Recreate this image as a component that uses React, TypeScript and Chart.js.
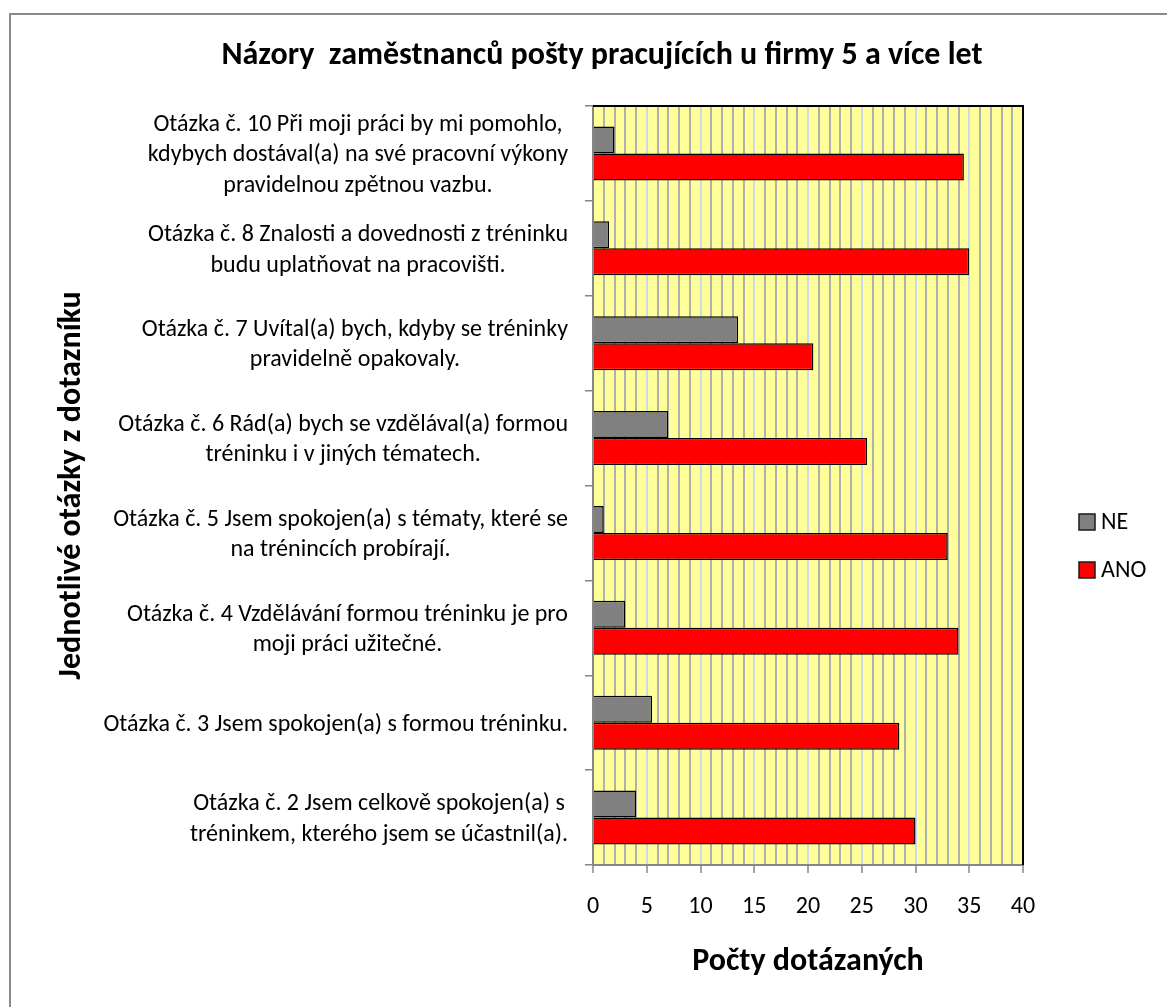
import { useEffect, useRef } from "react";
import { Chart, registerables } from "chart.js";

Chart.register(...registerables);

// Questionnaire items, top to bottom
const categories: string[][] = [
  ["Otázka č. 10 Při moji práci by mi pomohlo,", "kdybych dostával(a) na své pracovní výkony", "pravidelnou zpětnou vazbu."],
  ["Otázka č. 8 Znalosti a dovednosti z tréninku", "budu uplatňovat na pracovišti."],
  ["Otázka č. 7 Uvítal(a) bych, kdyby se tréninky", "pravidelně opakovaly."],
  ["Otázka č. 6 Rád(a) bych se vzdělával(a) formou", "tréninku i v jiných tématech."],
  ["Otázka č. 5 Jsem spokojen(a) s tématy, které se", "na trénincích probírají."],
  ["Otázka č. 4 Vzdělávání formou tréninku je pro", "moji práci užitečné."],
  ["Otázka č. 3 Jsem spokojen(a) s formou tréninku."],
  ["Otázka č. 2 Jsem celkově spokojen(a) s", "tréninkem, kterého jsem se účastnil(a)."],
];

const seriesNames = ["NE", "ANO"];
const neValues = [2, 1.5, 13.5, 7, 1, 3, 5.5, 4];
const anoValues = [34.5, 35, 20.5, 25.5, 33, 34, 28.5, 30];

const xMin = 0;
const xMax = 40;
const xMajorStep = 5;

const chartTitle = "Názory  zaměstnanců pošty pracujících u firmy 5 a více let";
const xTitle = "Počty dotázaných";
const yTitle = "Jednotlivé otázky z dotazníku";

const FONT = 'Carlito, Calibri, Lato, "Liberation Sans", sans-serif';
const LABEL_SIZE = 24;
const TITLE_SIZE = 32;
const AXIS_GREY = "#868686";

const decorPlugin = {
  id: "decor",
  beforeDraw(chart: any) {
    const { ctx, chartArea, width, height } = chart;
    ctx.save();
    ctx.fillStyle = "#ffffff";
    ctx.fillRect(0, 0, width, height);
    // plot background
    ctx.fillStyle = "#FFFF99";
    ctx.fillRect(chartArea.left, chartArea.top, chartArea.right - chartArea.left, chartArea.bottom - chartArea.top);
    // outer frame (top and left edges)
    ctx.strokeStyle = "#8a8a8a";
    ctx.lineWidth = 2;
    ctx.beginPath();
    ctx.moveTo(10, height);
    ctx.lineTo(10, 14);
    ctx.lineTo(width, 14);
    ctx.stroke();
    ctx.restore();
  },
  afterDatasetsDraw(chart: any) {
    const { ctx, chartArea } = chart;
    ctx.save();
    ctx.strokeStyle = "#000000";
    ctx.lineWidth = 2;
    ctx.beginPath();
    ctx.moveTo(chartArea.left, chartArea.top);
    ctx.lineTo(chartArea.right, chartArea.top);
    ctx.lineTo(chartArea.right, chartArea.bottom);
    ctx.stroke();
    ctx.restore();
  },
  afterDraw(chart: any) {
    const { ctx, chartArea } = chart;
    const yScale = chart.scales.y;
    ctx.save();
    ctx.fillStyle = "#000000";

    // chart title
    ctx.font = `bold ${TITLE_SIZE}px ${FONT}`;
    ctx.textAlign = "center";
    ctx.textBaseline = "middle";
    ctx.fillText(chartTitle, 602, 56);

    // category labels: each block right-aligned to the axis, lines centred inside it
    ctx.font = `${LABEL_SIZE}px ${FONT}`;
    const lineH = 30.5;
    const labels = chart.data.labels as string[][];
    labels.forEach((lines, i) => {
      const widest = Math.max(...lines.map((l) => ctx.measureText(l).width));
      const cx = chartArea.left - 25 - widest / 2;
      const cy = yScale.getPixelForTick(i) + 2;
      const y0 = cy - ((lines.length - 1) * lineH) / 2;
      lines.forEach((l, k) => ctx.fillText(l, cx, y0 + k * lineH));
    });

    // legend
    const legendY = [522, 570];
    chart.data.datasets.forEach((ds: any, i: number) => {
      const y = legendY[i];
      ctx.fillStyle = ds.backgroundColor;
      ctx.fillRect(1079, y - 8, 16, 16);
      ctx.strokeStyle = "#1a1a1a";
      ctx.lineWidth = 1.5;
      ctx.strokeRect(1079, y - 8, 16, 16);
      ctx.fillStyle = "#000000";
      ctx.textAlign = "left";
      ctx.font = `${LABEL_SIZE}px ${FONT}`;
      ctx.fillText(ds.label, 1101, y + 1);
    });
    ctx.restore();
  },
};

export default function App() {
  const canvasRef = useRef<HTMLCanvasElement | null>(null);

  useEffect(() => {
    if (!canvasRef.current) return;
    const chart = new Chart(canvasRef.current, {
      type: "bar",
      data: {
        labels: categories as any,
        datasets: [
          {
            label: seriesNames[0],
            data: neValues,
            backgroundColor: "#808080",
            borderColor: "#000000",
            borderWidth: 1.5,
            categoryPercentage: 0.57,
            barPercentage: 1,
          },
          {
            label: seriesNames[1],
            data: anoValues,
            backgroundColor: "#FF0000",
            borderColor: "#000000",
            borderWidth: 1.5,
            categoryPercentage: 0.57,
            barPercentage: 1,
          },
        ],
      },
      plugins: [decorPlugin],
      options: {
        indexAxis: "y",
        responsive: false,
        animation: false,
        events: [],
        layout: { padding: { top: 106, left: 47, right: 144, bottom: 12 } },
        plugins: {
          legend: { display: false },
          title: { display: false },
          tooltip: { enabled: false },
        },
        scales: {
          x: {
            type: "linear",
            min: xMin,
            max: xMax,
            afterFit: (scale: any) => {
              scale.height = 130;
            },
            ticks: {
              stepSize: 1,
              autoSkip: false,
              maxRotation: 0,
              padding: 20,
              color: "#000000",
              font: { family: FONT, size: LABEL_SIZE },
              callback: (v: any) => (Number(v) % xMajorStep === 0 ? String(v) : ""),
            },
            grid: {
              lineWidth: 2,
              color: (ctx: any) =>
                ctx.tick && ctx.tick.value % xMajorStep === 0 ? "#CCDAF0" : "#B0B0B0",
              tickColor: (ctx: any) =>
                ctx.tick && ctx.tick.value % xMajorStep === 0 ? AXIS_GREY : "rgba(0,0,0,0)",
              tickLength: 8,
              tickWidth: 1.5,
            },
            border: { display: true, color: AXIS_GREY, width: 2 },
            title: {
              display: true,
              text: xTitle,
              color: "#000000",
              font: { family: FONT, size: TITLE_SIZE, weight: "bold" },
              padding: { top: 0, bottom: 14 },
            },
          },
          y: {
            type: "category",
            afterFit: (scale: any) => {
              scale.width = 593 - 47;
            },
            ticks: { display: false },
            grid: {
              drawOnChartArea: false,
              drawTicks: true,
              tickLength: 8,
              color: AXIS_GREY,
              lineWidth: 1.5,
              offset: true,
            },
            border: { display: true, color: AXIS_GREY, width: 2 },
            title: {
              display: true,
              text: yTitle,
              color: "#000000",
              font: { family: FONT, size: TITLE_SIZE, weight: "bold" },
              padding: { top: 6, bottom: 0 },
            },
          },
        },
      },
    } as any);
    return () => chart.destroy();
  }, []);

  return (
    <div style={{ position: "fixed", left: 0, top: 0, width: 1167, height: 1007, background: "#fff" }}>
      <canvas ref={canvasRef} width={1167} height={1007} style={{ display: "block" }} />
    </div>
  );
}
